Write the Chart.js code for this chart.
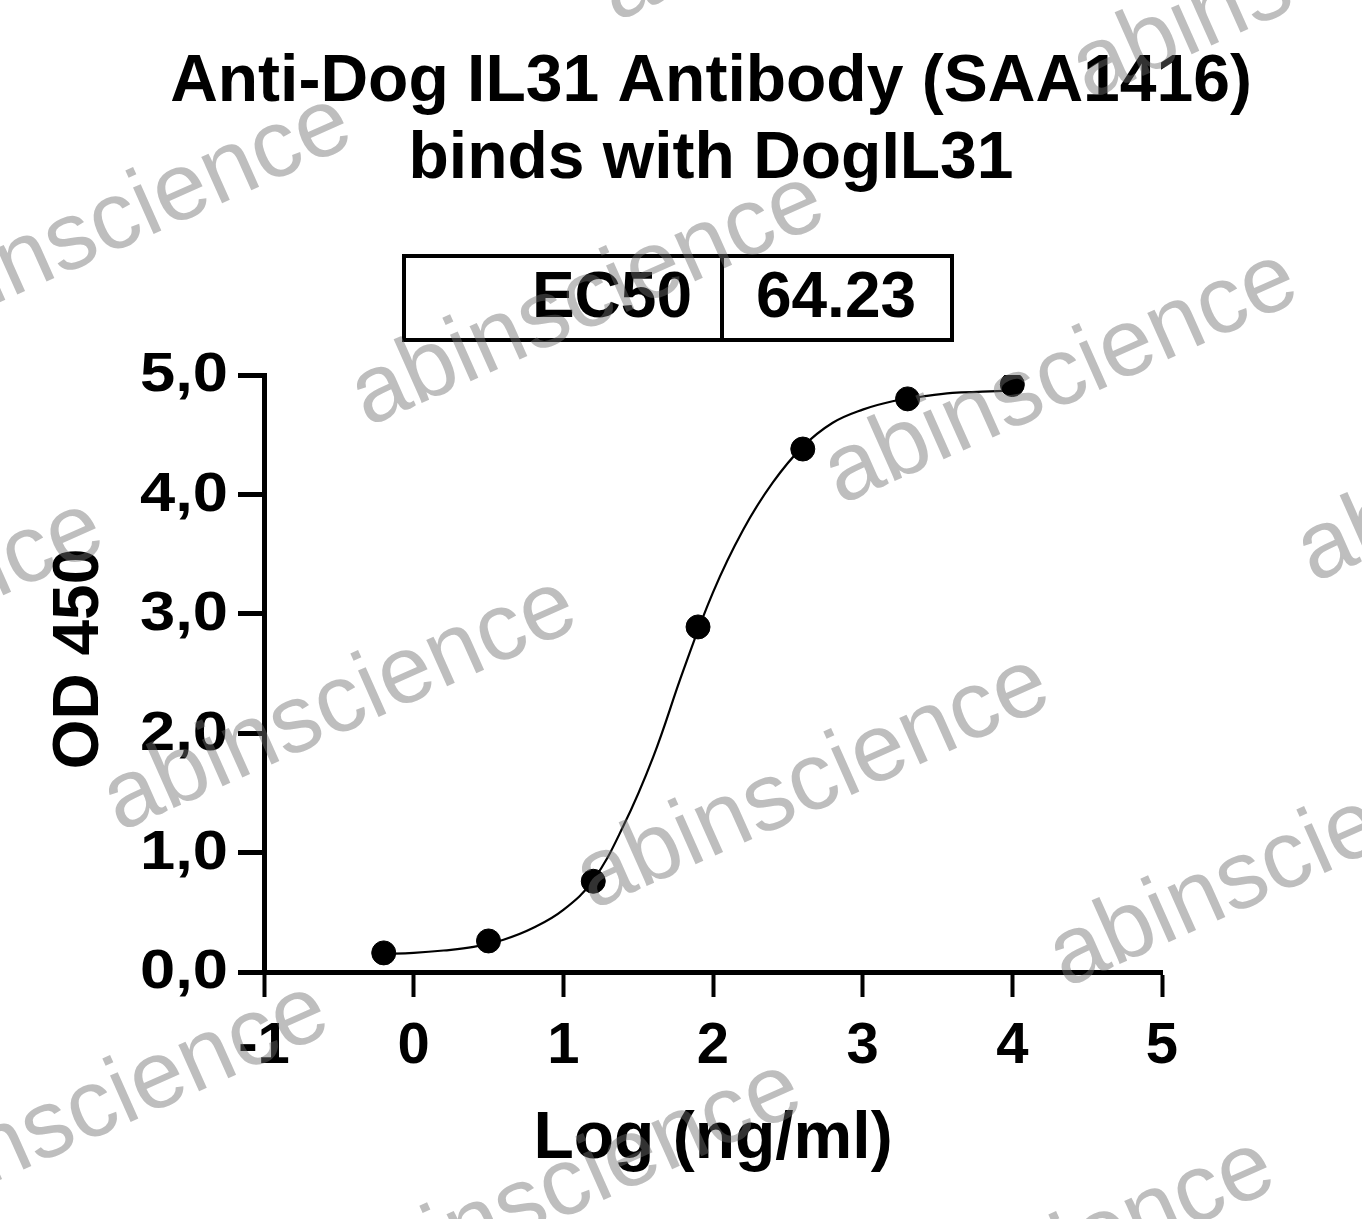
<!DOCTYPE html>
<html>
<head>
<meta charset="utf-8">
<script src="https://cdn.jsdelivr.net/npm/chart.js@4.4.1/dist/chart.umd.min.js"></script>
<style>
  html, body { margin: 0; padding: 0; background: #fff; }
  canvas { display: block; }
</style>
</head>
<body>
<canvas id="odChart" width="1362" height="1219"></canvas>
<script>
// Anti-Dog IL31 ELISA binding curve (OD450 vs log concentration)

const pointLogConc = [-0.2, 0.5, 1.2, 1.9, 2.6, 3.3, 4.0];
const pointOD = [0.16, 0.26, 0.76, 2.89, 4.38, 4.80, 4.92];

// fitted curve
const curveLogConc = [-0.2, 0, 0.2, 0.4, 0.6, 0.8, 1.0, 1.2, 1.4, 1.6, 1.8, 2.0, 2.2, 2.4, 2.6, 2.8, 3.0, 3.2, 3.4, 3.6, 3.8, 4.0];
const curveOD = [0.15, 0.16, 0.18, 0.21, 0.27, 0.37, 0.52, 0.77, 1.22, 1.80, 2.52, 3.18, 3.70, 4.10, 4.40, 4.60, 4.71, 4.78, 4.82, 4.85, 4.86, 4.87];

const xTicks = [-1, 0, 1, 2, 3, 4, 5];
const yTicks = [0, 1, 2, 3, 4, 5];

const titleLines = ['Anti-Dog IL31 Antibody (SAA1416)', 'binds with DogIL31'];
const yTitle = 'OD 450';
const ec50Label = 'EC50';
const ec50Value = '64.23';

const FONT = "'Liberation Sans', Arial, sans-serif";

// title, centred over the page like the original export
const pageTitle = {
  id: 'pageTitle',
  afterDraw(chart) {
    const ctx = chart.ctx;
    ctx.save();
    ctx.fillStyle = '#000';
    ctx.font = 'bold 66px ' + FONT;
    ctx.textAlign = 'center';
    ctx.textBaseline = 'middle';
    titleLines.forEach((t, i) => ctx.fillText(t, 711, 83 + i * 77));
    ctx.restore();
  }
};

// y tick labels (a little stretched sideways) and the y title
const yLabels = {
  id: 'yLabels',
  afterDraw(chart) {
    const ctx = chart.ctx;
    const y = chart.scales.y;
    ctx.save();
    ctx.fillStyle = '#000';
    ctx.font = 'bold 56px ' + FONT;
    ctx.textAlign = 'right';
    ctx.textBaseline = 'middle';
    const right = chart.chartArea.left - 36;
    yTicks.forEach(v => {
      const py = y.getPixelForValue(v);
      ctx.save();
      ctx.translate(right, py + 1);
      ctx.scale(1.13, 1);
      ctx.fillText(v.toFixed(1).replace('.', ','), 0, 0);
      ctx.restore();
    });
    ctx.font = 'bold 64px ' + FONT;
    ctx.textAlign = 'center';
    ctx.translate(80, 659);
    ctx.rotate(-Math.PI / 2);
    ctx.fillText(yTitle, 0, 0);
    ctx.restore();
  }
};

// EC50 table above the plot
const ec50Box = {
  id: 'ec50Box',
  afterDraw(chart) {
    const ctx = chart.ctx;
    ctx.save();
    ctx.strokeStyle = '#000';
    ctx.lineWidth = 4;
    ctx.strokeRect(404, 256, 548, 84);
    ctx.beginPath();
    ctx.moveTo(722, 256);
    ctx.lineTo(722, 340);
    ctx.stroke();
    ctx.fillStyle = '#000';
    ctx.font = 'bold 64px ' + FONT;
    ctx.textBaseline = 'middle';
    ctx.textAlign = 'right';
    ctx.fillText(ec50Label, 692, 299);
    ctx.textAlign = 'center';
    ctx.fillText(ec50Value, 836, 299);
    ctx.restore();
  }
};

// repeated "abinscience" watermark laid over the whole picture
const watermark = {
  id: 'watermark',
  afterDraw(chart) {
    const ctx = chart.ctx;
    ctx.save();
    ctx.fillStyle = 'rgba(110,110,110,0.45)';
    ctx.font = '96px ' + FONT;
    ctx.textAlign = 'center';
    ctx.textBaseline = 'middle';
    const ox = 588, oy = 300;
    const a = [473, 78], b = [-248, 405];
    for (let i = -4; i <= 4; i++) {
      for (let j = -3; j <= 3; j++) {
        const cx = ox + i * a[0] + j * b[0];
        const cy = oy + i * a[1] + j * b[1];
        if (cx < -300 || cx > 1660 || cy < -150 || cy > 1370) continue;
        ctx.save();
        ctx.translate(cx, cy);
        ctx.rotate(-24 * Math.PI / 180);
        ctx.fillText('abinscience', 0, 0);
        ctx.restore();
      }
    }
    ctx.restore();
  }
};

const ctx = document.getElementById('odChart').getContext('2d');
new Chart(ctx, {
  type: 'scatter',
  data: {
    datasets: [
      {
        type: 'line',
        data: curveLogConc.map((x, i) => ({ x: x, y: curveOD[i] })),
        borderColor: '#000',
        borderWidth: 2.2,
        pointRadius: 0,
        fill: false,
        tension: 0.4,
        order: 2
      },
      {
        type: 'scatter',
        data: pointLogConc.map((x, i) => ({ x: x, y: pointOD[i] })),
        backgroundColor: '#000',
        borderColor: '#000',
        pointRadius: 12,
        order: 1
      }
    ]
  },
  options: {
    responsive: false,
    animation: false,
    layout: { padding: { left: 48, right: 200, top: 375, bottom: 46 } },
    plugins: {
      legend: { display: false },
      tooltip: { enabled: false },
      title: { display: false }
    },
    scales: {
      x: {
        type: 'linear',
        min: -1,
        max: 5,
        afterBuildTicks: s => { s.ticks = xTicks.map(v => ({ value: v })); },
        afterFit: s => { s.height = 201; },
        grid: { drawOnChartArea: false, tickLength: 25, tickWidth: 4, tickColor: '#000' },
        border: { color: '#000', width: 5 },
        ticks: {
          color: '#000',
          padding: 15,
          maxRotation: 0,
          font: { family: FONT, size: 58, weight: 'bold' }
        },
        title: {
          display: true,
          text: 'Log (ng/ml)',
          color: '#000',
          padding: 0,
          font: { family: FONT, size: 66, weight: 'bold', lineHeight: 1 }
        }
      },
      y: {
        min: 0,
        max: 5,
        afterBuildTicks: s => { s.ticks = yTicks.map(v => ({ value: v })); },
        afterFit: s => { s.width = 216; },
        grid: { drawOnChartArea: false, tickLength: 26, tickWidth: 5, tickColor: '#000' },
        border: { color: '#000', width: 5 },
        ticks: { display: false },
        title: { display: false }
      }
    }
  },
  plugins: [pageTitle, yLabels, ec50Box, watermark]
});
</script>
</body>
</html>
